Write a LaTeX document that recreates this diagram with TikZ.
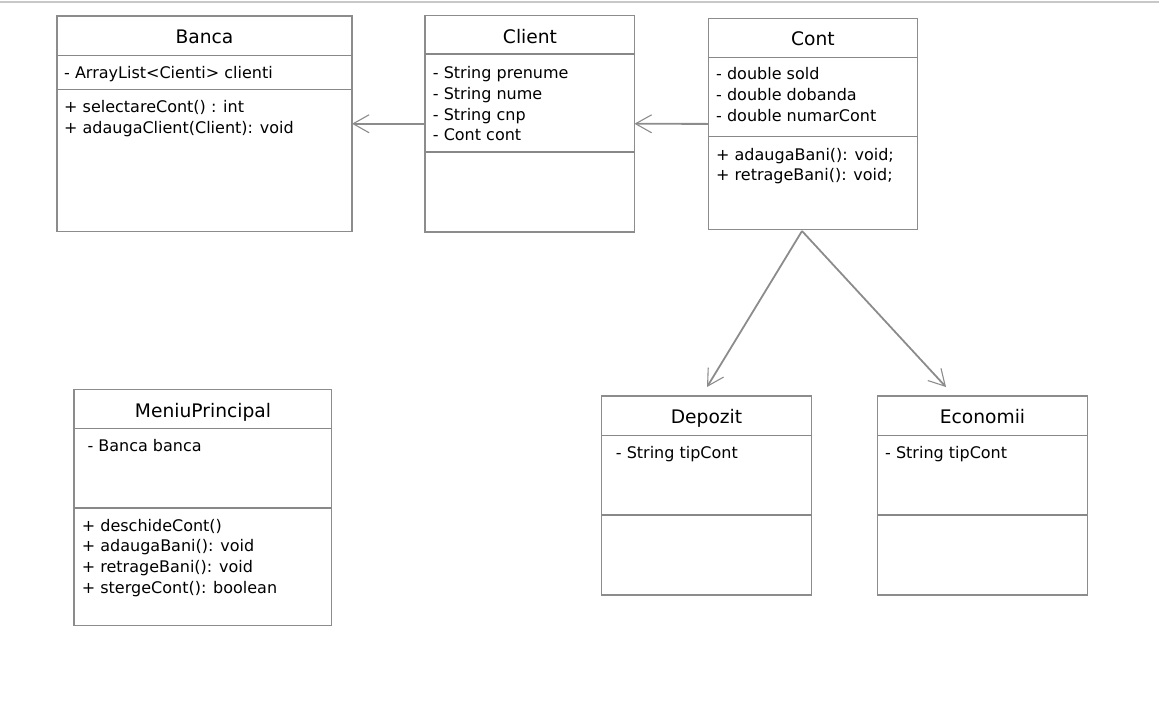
\documentclass[tikz,border=0pt]{standalone}
\usepackage{fontspec}
\setmainfont{DejaVu Sans}
\usetikzlibrary{arrows.meta}
\definecolor{boxgray}{HTML}{8C8C8C}
\definecolor{divgray}{HTML}{888888}
\definecolor{topgray}{HTML}{C8C8C8}
\tikzset{
  umlbox/.style={draw=boxgray, line width=1.5pt, inner sep=0pt, outer sep=0pt, anchor=north west, fill=white},
  divline/.style={draw=divgray, line width=1.5pt},
  ttl/.style={anchor=base, inner sep=0pt, font=\fontsize{18.67}{22}\selectfont},
  mem/.style={anchor=base west, inner sep=0pt, font=\fontsize{16}{20.8}\selectfont},
  conn/.style={draw=boxgray, line width=1.8pt, -{Straight Barb[length=16pt, width=18pt, line width=1.1pt]}},
}
\begin{document}
\begin{tikzpicture}[x=1pt, y=-1pt]
\useasboundingbox (0,0) rectangle (1159,710);
\draw[topgray, line width=2pt] (0,2) -- (1159,2);

% Banca
\node[umlbox, minimum width=295pt, minimum height=215.5pt] (banca) at (57,16) {};
\draw[divline] (banca.west |- 0,55.5) -- (banca.east |- 0,55.5);
\draw[divline] (banca.west |- 0,89.5) -- (banca.east |- 0,89.5);
\node[ttl] (bancaT) at (204.5,43.3) {Banca};
\node[mem] (bancaA1) at (64,78) {- ArrayList<Cienti> clienti};
\node[mem] (bancaM1) at (64,112.7) {+ selectareCont() : int};
\node[mem] (bancaM2) at (64,133.5) {+ adaugaClient(Client): void};

% Client
\node[umlbox, minimum width=209.5pt, minimum height=216.5pt] (client) at (425,15.5) {};
\draw[divline] (client.west |- 0,54) -- (client.east |- 0,54);
\draw[divline] (client.west |- 0,152) -- (client.east |- 0,152);
\node[ttl] (clientT) at (530,43.3) {Client};
\node[mem] (clientA1) at (432.7,78.3) {- String prenume};
\node[mem] (clientA2) at (432.7,99.3) {- String nume};
\node[mem] (clientA3) at (432.7,120) {- String cnp};
\node[mem] (clientA4) at (432.7,140.7) {- Cont cont};

% Cont
\node[umlbox, minimum width=209.4pt, minimum height=211.2pt] (cont) at (708.3,18.3) {};
\draw[divline] (cont.west |- 0,57.3) -- (cont.east |- 0,57.3);
\draw[divline] (cont.west |- 0,136.7) -- (cont.east |- 0,136.7);
\node[ttl] (contT) at (813,45.7) {Cont};
\node[mem] (contA1) at (716,79.3) {- double sold};
\node[mem] (contA2) at (716,100.7) {- double dobanda};
\node[mem] (contA3) at (716,121.7) {- double numarCont};
\node[mem] (contM1) at (716,160) {+ adaugaBani(): void;};
\node[mem] (contM2) at (716,180.7) {+ retrageBani(): void;};

% MeniuPrincipal
\node[umlbox, minimum width=257.7pt, minimum height=236pt] (meniu) at (74,389.7) {};
\draw[divline] (meniu.west |- 0,428.5) -- (meniu.east |- 0,428.5);
\draw[divline] (meniu.west |- 0,508) -- (meniu.east |- 0,508);
\node[ttl] (meniuT) at (203,417.7) {MeniuPrincipal};
\node[mem] (meniuA1) at (87.3,451.7) {- Banca banca};
\node[mem] (meniuM1) at (81.7,531) {+ deschideCont()};
\node[mem] (meniuM2) at (81.7,551.7) {+ adaugaBani(): void};
\node[mem] (meniuM3) at (81.7,572.3) {+ retrageBani(): void};
\node[mem] (meniuM4) at (81.7,593.3) {+ stergeCont(): boolean};

% Depozit
\node[umlbox, minimum width=210.2pt, minimum height=199pt] (depozit) at (601.5,396) {};
\draw[divline] (depozit.west |- 0,435.5) -- (depozit.east |- 0,435.5);
\draw[divline] (depozit.west |- 0,515) -- (depozit.east |- 0,515);
\node[ttl] (depozitT) at (706.5,423.3) {Depozit};
\node[mem] (depozitA1) at (615.7,458.3) {- String tipCont};

% Economii
\node[umlbox, minimum width=209.6pt, minimum height=199pt] (economii) at (877.7,396) {};
\draw[divline] (economii.west |- 0,435.5) -- (economii.east |- 0,435.5);
\draw[divline] (economii.west |- 0,515) -- (economii.east |- 0,515);
\node[ttl] (economiiT) at (982.5,423.3) {Economii};
\node[mem] (economiiA1) at (885,458.3) {- String tipCont};

% connectors
\coordinate (contB) at (802,231);
\coordinate (depTip) at (707,387);
\coordinate (ecoTip) at (946,387);
\draw[conn] (client.west) -- (banca.east);
\draw[conn] (cont.west) -- (client.east);
\draw[conn] (contB) -- (depTip);
\draw[conn] (contB) -- (ecoTip);
\end{tikzpicture}
\end{document}
